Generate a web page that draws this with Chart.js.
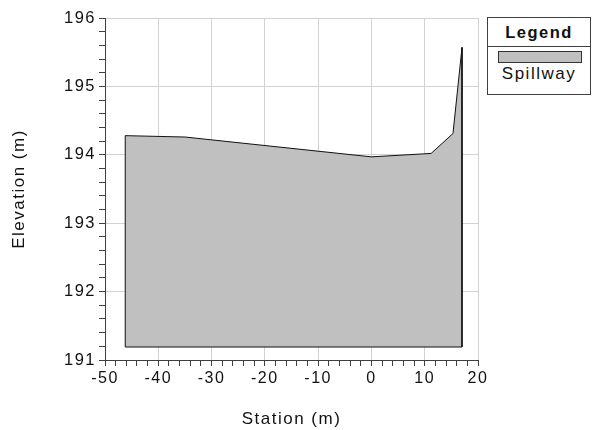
<!DOCTYPE html>
<html><head><meta charset="utf-8">
<script src="https://cdn.jsdelivr.net/npm/chart.js@4"></script>
<style>
html,body{margin:0;padding:0;background:#fff;}
#wrap{position:relative;width:592px;height:430px;}
#c{position:absolute;left:0;top:0;}
#legend{position:absolute;left:487px;top:17px;width:104px;height:78px;border:1px solid #404040;box-sizing:border-box;background:#fff;font-family:"Liberation Sans",Arial,sans-serif;color:#111;letter-spacing:1.5px;}
#lgHead{height:28px;line-height:29px;text-align:center;font-weight:bold;font-size:16.5px;border-bottom:1px solid #404040;}
#lgSw{position:absolute;left:10px;top:33px;width:84px;height:12px;border:1px solid #333;box-sizing:border-box;}
#lgTxt{position:absolute;left:0;top:46px;width:100%;text-align:center;font-size:17px;}
</style></head>
<body><div id="wrap"><canvas id="c" width="592" height="430"></canvas>
<div id="legend"><div id="lgHead">Legend</div><div id="lgSw"></div><div id="lgTxt">Spillway</div></div></div>
<script>
const stations   = [-46.2, -46.2, -35, 0, 11.2, 15.3, 17, 17, -46.2];
const elevations = [191.19, 194.28, 194.26, 193.97, 194.02, 194.31, 195.57, 191.19, 191.19];
const seriesName = "Spillway";
const xTitle = "Station (m)";
const yTitle = "Elevation (m)";
const fillColor = "#c0c0c0";
document.getElementById('lgSw').style.background = fillColor;

const pts = stations.map((s, i) => ({x: s, y: elevations[i]}));
const isInt = v => Math.abs(v - Math.round(v)) < 1e-6;
const isMajorX = v => isInt(v / 10);
const FONT = "'Liberation Sans', Arial, sans-serif";
const spacing = {
  id: 'spacing',
  beforeLayout(c){ c.ctx.letterSpacing = '1.5px'; },
  beforeDraw(c){ c.ctx.letterSpacing = '1.5px'; }
};
new Chart(document.getElementById('c'), {
  type: 'scatter',
  data: { datasets: [{
    label: seriesName, data: pts, showLine: true, fill: 'shape',
    backgroundColor: fillColor, borderColor: '#111', borderWidth: 1,
    pointRadius: 0, tension: 0
  }]},
  options: {
    responsive: false, animation: false,
    layout: { padding: { left: 0, right: 114, top: 18, bottom: 0 } },
    plugins: { legend: { display: false }, tooltip: { enabled: false } },
    scales: {
      x: {
        type: 'linear', min: -50, max: 20,
        afterFit(s){ s.height = 70; },
        border: { color: '#404040', width: 1 },
        grid: {
          color: ctx => (ctx.tick && isMajorX(ctx.tick.value)) ? '#d2d2d2' : 'rgba(0,0,0,0)',
          tickColor: '#404040', tickLength: 6, drawTicks: true
        },
        ticks: {
          stepSize: 2, autoSkip: false, maxRotation: 0, padding: 3,
          color: '#111', font: { family: FONT, size: 16 },
          callback: v => isMajorX(v) ? String(Math.round(v)) : ''
        },
        title: { display: true, text: xTitle, color: '#111', font: { family: FONT, size: 17 }, padding: { top: 0, bottom: 0 } }
      },
      y: {
        type: 'linear', min: 191, max: 196,
        afterFit(s){ s.width = 105; },
        border: { color: '#404040', width: 1 },
        grid: {
          color: ctx => (ctx.tick && isInt(ctx.tick.value)) ? '#d2d2d2' : 'rgba(0,0,0,0)',
          tickColor: '#404040', tickLength: 6
        },
        ticks: {
          stepSize: 0.2, autoSkip: false, padding: 3,
          color: '#111', font: { family: FONT, size: 16.5 },
          callback: v => isInt(v) ? String(Math.round(v)) : ''
        },
        title: { display: true, text: yTitle, color: '#111', font: { family: FONT, size: 17 }, padding: { top: 9, bottom: 9 } }
      }
    }
  },
  plugins: [spacing]
});
</script></body></html>
